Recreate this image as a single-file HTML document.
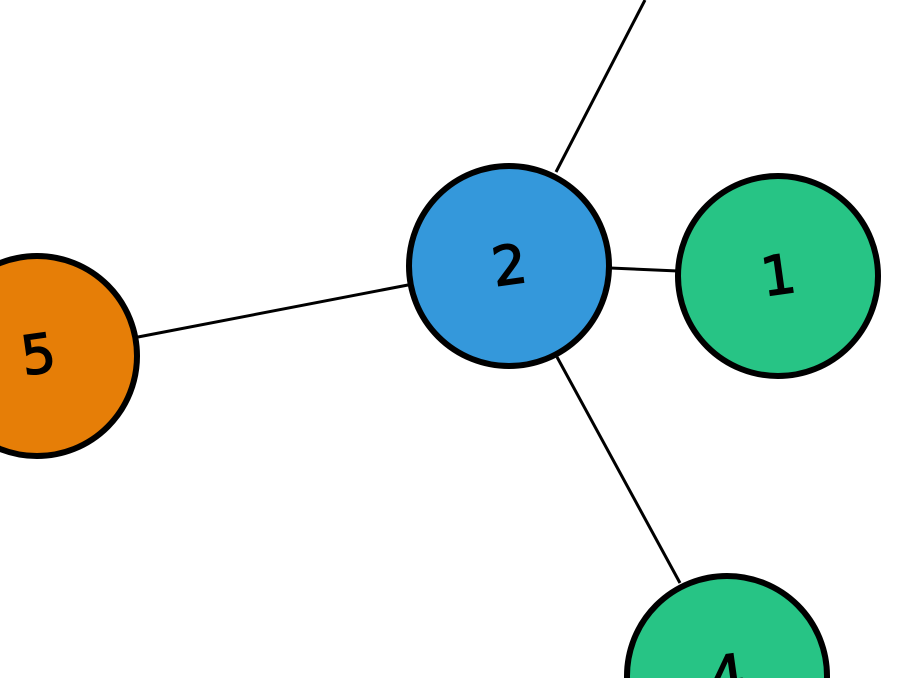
<!DOCTYPE html>
<html><head><style>html,body{margin:0;padding:0;background:#fff;width:904px;height:678px;overflow:hidden}svg{display:block}</style></head>
<body>
<svg width="904" height="678" viewBox="0 0 904 678" xmlns="http://www.w3.org/2000/svg">
<g stroke="#000" stroke-width="3">
<line x1="556" y1="172" x2="645" y2="0"/>
<line x1="610" y1="268" x2="678" y2="271"/>
<line x1="408" y1="285" x2="138" y2="337"/>
<line x1="557" y1="357" x2="680" y2="583"/>
</g>
<g stroke="#000" stroke-width="6">
<circle cx="509" cy="266" r="100" fill="#3498db"/>
<circle cx="778" cy="276" r="100" fill="#27c485"/>
<circle cx="37" cy="356" r="100" fill="#e67e07"/>
<circle cx="727" cy="676" r="100" fill="#27c485"/>
</g>
<g font-family="DejaVu Sans, Liberation Sans, sans-serif" font-size="54" text-anchor="middle" fill="#000" stroke="#000" stroke-width="1.5">
<text x="509" y="284" transform="rotate(-8 509 263)">2</text>
<text x="778" y="294" transform="rotate(-8 778 273)">1</text>
<text x="38" y="373" transform="rotate(-8 38 352)">5</text>
<text x="727" y="694" transform="rotate(-8 727 673)">4</text>
</g>
</svg>
</body></html>
